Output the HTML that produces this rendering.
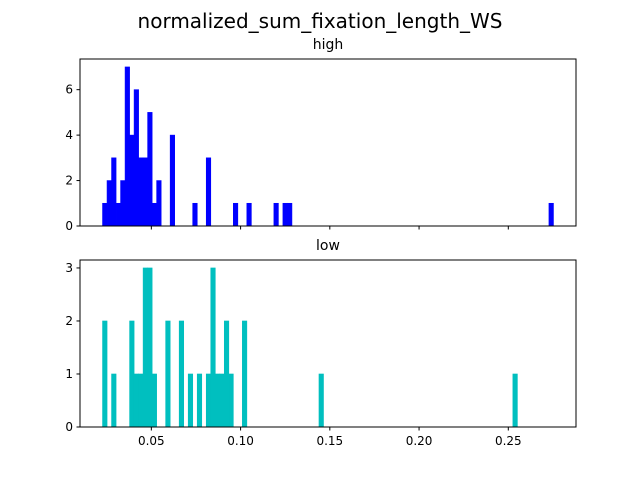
<!DOCTYPE html>
<html><head><meta charset="utf-8"><style>
body{margin:0;background:#fff;width:640px;height:480px;overflow:hidden}
svg{display:block;font-family:"DejaVu Sans","Liberation Sans",sans-serif}
</style></head><body>
<svg id="fig" width="640" height="480" viewBox="0 0 640 480">
<rect width="640" height="480" fill="#fff"/>
<text x="320" y="28" font-size="20" text-anchor="middle">normalized_sum_fixation_length_WS</text>
</svg>
<script>
const binMin = 0.02266;
const binMax = 0.2753;
const binCount = 100;
const highBins = [0,1,2,3,4,5,6,7,8,9,10,11,12,15,20,23,29,32,38,40,41,99];
const highCounts = [1,2,3,1,2,7,4,6,3,3,5,1,2,4,1,3,1,1,1,1,1,1];
const lowBins = [0,2,6,7,8,9,10,11,14,17,19,21,23,24,25,26,27,28,31,48,91];
const lowCounts = [2,1,2,1,1,3,3,1,2,2,1,1,1,3,1,1,2,1,2,1,1];
const xTicks = [0.05,0.10,0.15,0.20,0.25];
const xTickLabels = ["0.05","0.10","0.15","0.20","0.25"];
const highYTicks = [0,2,4,6];
const lowYTicks = [0,1,2,3];

const NS="http://www.w3.org/2000/svg";
const svg=document.getElementById('fig');
function mk(tag,attrs,parent){const e=document.createElementNS(NS,tag);for(const k in attrs)e.setAttribute(k,attrs[k]);(parent||svg).appendChild(e);return e;}
const L=80,R=576;
const span=binMax-binMin;
const xMin=binMin-0.05*span, xMax=binMax+0.05*span;
const xs=v=>L+(v-xMin)/(xMax-xMin)*(R-L);
const bw=span/binCount;

function panel(name,top,bottom,bins,counts,yTicks,color,title,showXLabels){
  const ymax=Math.max(...counts)*1.05;
  const ys=v=>bottom-v/ymax*(bottom-top);
  const g=mk('g',{});
  
  
  bins.forEach((b,i)=>{
    const x0=xs(binMin+b*bw),x1=xs(binMin+(b+1)*bw);
    const r=mk('rect',{x:x0,y:ys(counts[i]),width:x1-x0,height:bottom-ys(counts[i]),fill:color,stroke:color,'stroke-width':0.6},g);
    
    
  });
  const f=mk('rect',{x:L,y:top,width:R-L,height:bottom-top,fill:'none',stroke:'#000','stroke-width':1},g);
  
  
  yTicks.forEach(t=>{
    const y=ys(t);
    const tk=mk('line',{x1:L-3.5,x2:L,y1:y,y2:y,stroke:'#000'},g);
    
    
    const tx=mk('text',{x:L-7,y:y+4,'font-size':12,'text-anchor':'end'},g);
    tx.textContent=t;
    
    
  });
  xTicks.forEach((t,i)=>{
    const x=xs(t);
    const tk=mk('line',{x1:x,x2:x,y1:bottom,y2:bottom+3.5,stroke:'#000'},g);
    
    
    if(showXLabels){
      const tx=mk('text',{x:x,y:bottom+18,'font-size':12,'text-anchor':'middle'},g);
      tx.textContent=xTickLabels[i];
      
      
    }
  });
  const tt=mk('text',{x:(L+R)/2,y:top-10,'font-size':14,'text-anchor':'middle'},g);
  tt.textContent=title;
  
  
}
panel('high',59,226,highBins,highCounts,highYTicks,'#0000ff','high',false);
panel('low',260,427,lowBins,lowCounts,lowYTicks,'#00bfbf','low',true);
</script>
</body></html>
